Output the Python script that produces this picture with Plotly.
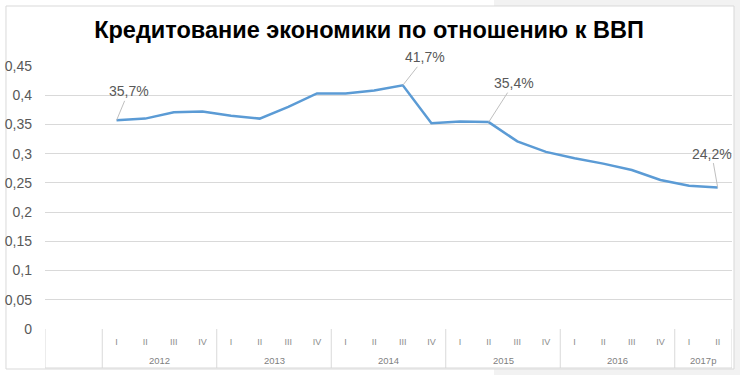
import plotly.graph_objects as go

# ---- data ----
years = ["2012", "2013", "2014", "2015", "2016", "2017р"]
quarters_per_year = [4, 4, 4, 4, 4, 2]
quarter_labels = ["I", "II", "III", "IV"] * 5 + ["I", "II"]
credit_to_gdp = [0.357, 0.360, 0.371, 0.372, 0.365, 0.360, 0.380, 0.403,
                 0.403, 0.408, 0.417, 0.352, 0.355, 0.354, 0.321, 0.303,
                 0.292, 0.283, 0.272, 0.255, 0.245, 0.242]
label_points = [0, 10, 13, 21]
label_texts = ["35,7%", "41,7%", "35,4%", "24,2%"]
y_ticks = [0, 0.05, 0.1, 0.15, 0.2, 0.25, 0.3, 0.35, 0.4, 0.45]
y_tick_text = ["0", "0,05", "0,1", "0,15", "0,2", "0,25", "0,3", "0,35", "0,4", "0,45"]
title_text = "Кредитование экономики по отношению к ВВП"

x_idx = list(range(len(credit_to_gdp)))

fig = go.Figure()
fig.add_trace(go.Scatter(
    x=x_idx, y=credit_to_gdp, mode="lines",
    line=dict(color="#5B9BD5", width=2.5),
    hoverinfo="skip", cliponaxis=False,
))

GRID = "#d9d9d9"
shapes = [
    dict(type="rect", xref="paper", yref="paper", x0=0.6536, x1=1.2, y0=-0.4, y1=1.5,
         fillcolor="#f2f2f2", line=dict(width=0), layer="below"),
    dict(type="rect", xref="paper", yref="paper", x0=-0.0568, x1=1.0029, y0=-0.1521, y1=1.2281,
         fillcolor="white", line=dict(color="#d9d9d9", width=1), layer="below"),
]

table_bottom = -0.1483
x_left = -2.5
boundaries = [x_left, -0.5]
pos = -0.5
for n in quarters_per_year:
    pos += n
    boundaries.append(pos)
for b in boundaries:
    shapes.append(dict(type="line", xref="x", yref="paper", x0=b, x1=b, y0=0, y1=table_bottom,
                       line=dict(color=GRID, width=1)))
shapes.append(dict(type="line", xref="x", yref="paper", x0=x_left, x1=boundaries[-1],
                   y0=table_bottom, y1=table_bottom, line=dict(color=GRID, width=1)))

annotations = []
start = -0.5
for yname, n in zip(years, quarters_per_year):
    annotations.append(dict(x=start + n / 2, y=-0.118, xref="x", yref="paper",
                            text=yname, showarrow=False,
                            font=dict(family="Liberation Sans", size=9.5, color="#7f7f7f"),
                            yanchor="middle"))
    start += n

offsets = [(12, -29), (22, -28), (25, -39), (-6, -34)]
for i, t, (ax, ay) in zip(label_points, label_texts, offsets):
    annotations.append(dict(x=i, y=credit_to_gdp[i], xref="x", yref="y", text=t,
                            showarrow=True, arrowhead=0, arrowwidth=1, arrowcolor="#bfbfbf",
                            ax=ax, ay=ay, standoff=0,
                            font=dict(family="Liberation Sans", size=14, color="#595959")))

fig.update_layout(
    width=740, height=375,
    margin=dict(l=45, r=8, t=66, b=46, autoexpand=False),
    paper_bgcolor="white", plot_bgcolor="rgba(0,0,0,0)",
    showlegend=False,
    title=dict(text="<b>" + title_text + "</b>", xref="container", yref="container",
               x=0.4986, y=0.92, xanchor="center", yanchor="middle",
               font=dict(family="Liberation Sans", size=23.5, color="black")),
    shapes=shapes, annotations=annotations,
    xaxis=dict(range=[-2.5, 21.5], tickvals=x_idx, ticktext=quarter_labels,
               showgrid=False, zeroline=False, showline=False, ticks="", automargin=False,
               tickfont=dict(family="Liberation Sans", size=9, color="#8c8c8c"),
               ticklabelstandoff=6),
    yaxis=dict(range=[0, 0.45], tickvals=y_ticks, ticktext=y_tick_text,
               showgrid=True, gridcolor=GRID, gridwidth=1, zeroline=False, showline=False,
               ticks="", automargin=False,
               tickfont=dict(family="Liberation Sans", size=14, color="#595959"),
               ticklabelstandoff=12),
)

fig.write_html("out.html", config={"displayModeBar": False},
               post_script="document.body.style.margin='0';")
